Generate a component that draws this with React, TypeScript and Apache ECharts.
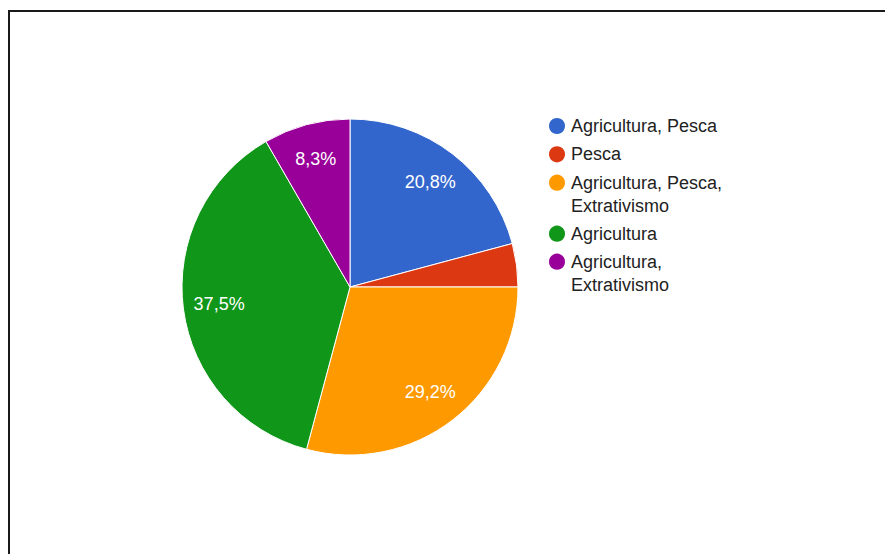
import React, { useEffect, useRef } from "react";
import * as echarts from "echarts";

const categories = [
  "Agricultura, Pesca",
  "Pesca",
  "Agricultura, Pesca, Extrativismo",
  "Agricultura",
  "Agricultura, Extrativismo",
];
const legendLabels = [
  "Agricultura, Pesca",
  "Pesca",
  "Agricultura, Pesca,\nExtrativismo",
  "Agricultura",
  "Agricultura,\nExtrativismo",
];
const counts = [5, 1, 7, 9, 2];
const colors = ["#3366cc", "#dc3912", "#ff9900", "#109618", "#990099"];

const FONT = "'Liberation Sans', Arial, sans-serif";

export default function App() {
  const ref = useRef<HTMLDivElement>(null);
  useEffect(() => {
    if (!ref.current) return;
    const chart = echarts.init(ref.current, null, { renderer: "svg" });
    const total = counts.reduce((a, b) => a + b, 0);
    const data = categories.map((name, i) => ({
      name,
      value: counts[i],
      itemStyle: { color: colors[i] },
    }));
    const legendTops = [114.5, 142.8, 148.2, 222.2, 227.2];
    const legends = categories.map((name, i) => {
      const twoLine = legendLabels[i].includes("\n");
      return {
        orient: "vertical",
        left: 547,
        top: legendTops[i],
        padding: 0,
        icon: "circle",
        itemWidth: 18,
        itemHeight: 18,
        itemGap: 5,
        selectedMode: false,
        formatter: () => (twoLine ? " \n" + legendLabels[i] : legendLabels[i]),
        textStyle: {
          fontFamily: FONT,
          fontSize: 18,
          color: "#222",
          lineHeight: 23,
        },
        data: [name],
      };
    });
    chart.setOption({
      animation: false,
      backgroundColor: "#fff",
      legend: legends,
      graphic: [
        { type: "rect", shape: { x: 8, y: 10, width: 877, height: 2 }, style: { fill: "#1a1a1a" } },
        { type: "rect", shape: { x: 8, y: 10, width: 2, height: 544 }, style: { fill: "#1a1a1a" } },
      ],
      series: [
        {
          type: "pie",
          center: [350, 287],
          radius: [0, 168],
          startAngle: 90,
          clockwise: true,
          label: { show: false },
          labelLine: { show: false },
          itemStyle: { borderColor: "#fff", borderWidth: 1 },
          emphasis: { disabled: true },
          data,
        },
        {
          type: "pie",
          center: [350, 287],
          radius: [90, 168],
          startAngle: 90,
          clockwise: true,
          silent: true,
          itemStyle: { color: "rgba(0,0,0,0)", borderWidth: 0 },
          label: {
            show: true,
            position: "inside",
            color: "#fff",
            fontFamily: FONT,
            fontSize: 18,
            formatter: (p: any) => {
              const pct = (p.value / total) * 100;
              if (pct < 5) return "";
              return pct.toFixed(1).replace(".", ",") + "%";
            },
          },
          labelLine: { show: false },
          emphasis: { disabled: true },
          data: categories.map((name, i) => ({ name, value: counts[i] })),
        },
      ],
    });
    return () => chart.dispose();
  }, []);
  return (
    <div
      ref={ref}
      style={{ position: "absolute", left: 0, top: 0, width: 885, height: 554 }}
    />
  );
}
